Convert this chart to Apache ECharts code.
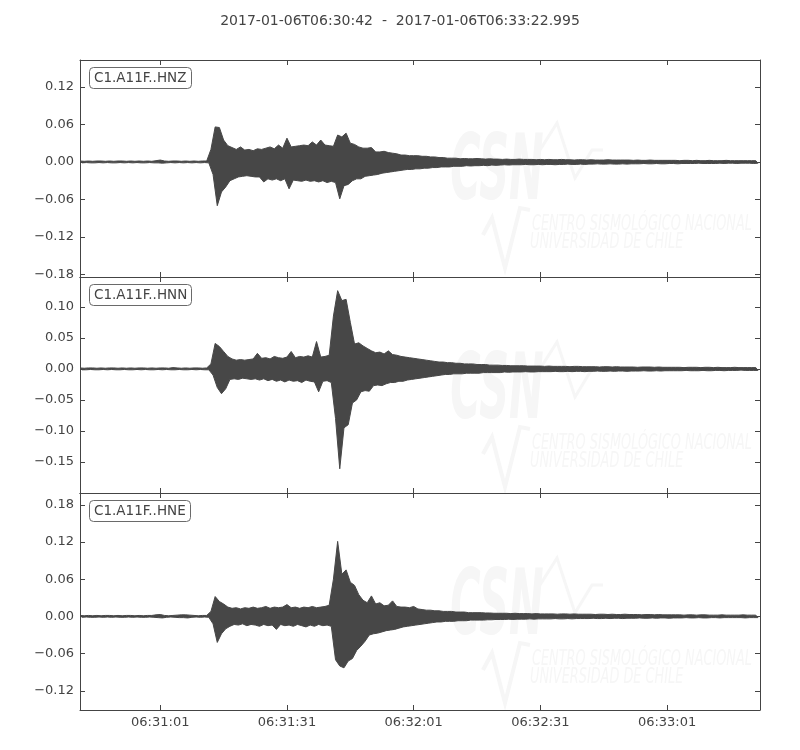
<!DOCTYPE html>
<html>
<head>
<meta charset="utf-8">
<script src="https://cdn.jsdelivr.net/npm/echarts@6/dist/echarts.min.js"></script>
<style>html,body{margin:0;padding:0;background:#fff}#chart{width:800px;height:750px}</style>
</head>
<body>
<div id="chart"></div>
<script>
// ---- data (envelope of each trace, 1 s bins, t = 0..160 s) ----
const titleText = '2017-01-06T06:30:42  -  2017-01-06T06:33:22.995';
const durationSec = 160.995;
const binSec = 1;
const channels = ['C1.A11F..HNZ', 'C1.A11F..HNN', 'C1.A11F..HNE'];
const xTickSec = [19, 49, 79, 109, 139];
const xTickLabels = ['06:31:01', '06:31:31', '06:32:01', '06:32:31', '06:33:01'];
const hnzTicks = [-0.18, -0.12, -0.06, 0, 0.06, 0.12];
const hnnTicks = [-0.15, -0.10, -0.05, 0, 0.05, 0.10];
const hneTicks = [-0.12, -0.06, 0, 0.06, 0.12, 0.18];
const hnzRange = [-0.184, 0.163];
const hnnRange = [-0.200, 0.148];
const hneRange = [-0.151, 0.199];

const hnzUp = [.0015,.001,.0015,.001,.0015,.0015,.001,.0015,.001,.0015,
 .0015,.001,.0015,.001,.0015,.001,.0015,.001,.002,.003,
 .0015,.001,.0015,.0015,.001,.0015,.001,.0015,.001,.0015,
 .0015,.020,.056,.055,.035,.026,.023,.020,.024,.019,
 .020,.018,.021,.020,.022,.024,.021,.027,.022,.038,
 .024,.025,.026,.027,.026,.032,.027,.035,.027,.026,
 .025,.043,.040,.046,.030,.028,.024,.022,.022,.023,
 .016,.016,.017,.015,.014,.013,.011,.011,.010,.010,
 .010,.009,.009,.008,.008,.007,.007,.006,.006,.006,
 .005,.0055,.005,.005,.0055,.005,.0045,.005,.0045,.0045,
 .004,.0045,.004,.004,.0045,.004,.004,.004,.0035,.004,
 .0035,.004,.0035,.0035,.004,.0035,.0035,.003,.0035,.0035,
 .003,.0035,.003,.003,.003,.0035,.003,.003,.003,.003,
 .003,.0025,.003,.0025,.0025,.003,.0025,.0025,.0025,.0025,
 .0025,.0025,.002,.0025,.0025,.002,.0025,.002,.002,.0025,
 .002,.002,.002,.0025,.002,.002,.002,.002,.002,.002,.002];
const hnzLo = [-.0015,-.001,-.0015,-.0015,-.001,-.0015,-.001,-.0015,-.0015,-.001,
 -.0015,-.001,-.0015,-.001,-.0015,-.0015,-.001,-.0015,-.0015,-.002,
 -.0015,-.001,-.0015,-.001,-.0015,-.001,-.0015,-.001,-.0015,-.001,
 -.0015,-.020,-.070,-.048,-.040,-.030,-.027,-.024,-.023,-.022,
 -.023,-.024,-.024,-.032,-.027,-.029,-.027,-.030,-.027,-.043,
 -.029,-.030,-.031,-.029,-.031,-.030,-.032,-.030,-.033,-.031,
 -.033,-.059,-.038,-.036,-.030,-.027,-.027,-.023,-.022,-.021,
 -.020,-.018,-.017,-.016,-.015,-.014,-.013,-.012,-.012,-.011,
 -.011,-.010,-.010,-.009,-.009,-.008,-.008,-.008,-.007,-.007,
 -.007,-.006,-.0065,-.006,-.006,-.0055,-.006,-.005,-.0055,-.005,
 -.0045,-.005,-.0045,-.0045,-.0045,-.004,-.0045,-.0045,-.004,-.0045,
 -.004,-.004,-.0045,-.004,-.004,-.0035,-.004,-.004,-.0035,-.004,
 -.0035,-.0035,-.003,-.0035,-.0035,-.003,-.0035,-.0035,-.003,-.0035,
 -.003,-.003,-.003,-.0025,-.003,-.003,-.0025,-.003,-.003,-.0025,
 -.0025,-.003,-.0025,-.0025,-.0025,-.0025,-.002,-.0025,-.0025,-.0025,
 -.0025,-.002,-.0025,-.002,-.002,-.0025,-.002,-.002,-.002,-.0025,-.002];

const hnnUp = [.0015,.001,.0015,.0015,.001,.0015,.001,.0015,.0015,.001,
 .0015,.001,.0015,.001,.0015,.0015,.001,.0015,.001,.0015,
 .0015,.001,.002,.0015,.001,.0015,.001,.0015,.0015,.001,
 .0015,.008,.041,.036,.028,.020,.016,.014,.015,.014,
 .015,.016,.025,.017,.018,.016,.020,.018,.017,.019,
 .028,.018,.020,.019,.021,.019,.044,.019,.020,.022,
 .085,.126,.110,.112,.075,.040,.042,.037,.033,.029,
 .026,.027,.024,.029,.023,.022,.020,.019,.018,.017,
 .016,.015,.014,.013,.012,.011,.011,.010,.010,.009,
 .009,.008,.008,.008,.007,.007,.007,.006,.006,.006,
 .0055,.0055,.005,.005,.005,.005,.0045,.0045,.0045,.0045,
 .004,.0045,.004,.004,.004,.004,.0035,.004,.004,.0035,
 .0035,.0035,.0035,.003,.0035,.0035,.003,.0035,.003,.003,
 .003,.003,.0025,.003,.003,.003,.0025,.003,.0025,.0025,
 .0025,.0025,.0025,.002,.0025,.0025,.0025,.002,.0025,.0025,
 .002,.0025,.002,.002,.002,.0025,.002,.002,.002,.002,.002];
const hnnLo = [-.0015,-.0015,-.001,-.0015,-.0015,-.001,-.0015,-.001,-.0015,-.0015,
 -.001,-.0015,-.0015,-.001,-.0015,-.001,-.0015,-.0015,-.001,-.0015,
 -.001,-.0015,-.0015,-.001,-.0015,-.0015,-.001,-.0015,-.001,-.0015,
 -.0015,-.010,-.030,-.040,-.032,-.017,-.016,-.017,-.015,-.016,
 -.017,-.016,-.018,-.016,-.019,-.017,-.020,-.018,-.021,-.018,
 -.020,-.019,-.022,-.018,-.020,-.021,-.037,-.020,-.019,-.022,
 -.080,-.161,-.095,-.090,-.055,-.050,-.037,-.035,-.036,-.027,
 -.026,-.027,-.024,-.022,-.022,-.020,-.020,-.018,-.017,-.016,
 -.015,-.014,-.013,-.012,-.011,-.010,-.009,-.009,-.008,-.008,
 -.008,-.007,-.007,-.007,-.007,-.006,-.006,-.006,-.006,-.006,
 -.005,-.0055,-.005,-.005,-.005,-.0045,-.005,-.005,-.0045,-.0045,
 -.0045,-.0045,-.004,-.0045,-.0045,-.004,-.0045,-.004,-.004,-.0045,
 -.004,-.004,-.0035,-.004,-.004,-.0035,-.004,-.0035,-.0035,-.004,
 -.0035,-.0035,-.0035,-.003,-.0035,-.0035,-.003,-.0035,-.003,-.003,
 -.003,-.003,-.003,-.0025,-.003,-.003,-.003,-.0025,-.003,-.003,
 -.0025,-.0025,-.003,-.0025,-.0025,-.0025,-.002,-.0025,-.0025,-.0025,-.0025];

const hneUp = [.0015,.001,.0015,.001,.0015,.001,.0015,.0015,.001,.0015,
 .001,.0015,.0015,.001,.0015,.001,.0015,.0015,.0025,.003,
 .0015,.001,.0015,.002,.0025,.0025,.002,.0015,.001,.0015,
 .0015,.008,.032,.024,.020,.015,.013,.014,.012,.014,
 .013,.015,.013,.014,.016,.013,.015,.014,.015,.019,
 .014,.015,.013,.015,.014,.016,.014,.015,.016,.018,
 .060,.121,.068,.075,.055,.050,.035,.026,.022,.033,
 .020,.022,.017,.018,.025,.016,.015,.015,.014,.016,
 .012,.011,.010,.010,.009,.009,.008,.008,.008,.007,
 .007,.007,.006,.006,.006,.006,.0055,.0055,.005,.005,
 .005,.005,.0045,.005,.0045,.0045,.0045,.004,.0045,.004,
 .004,.004,.004,.0035,.004,.004,.0035,.004,.0035,.0035,
 .0035,.0035,.003,.0035,.0035,.003,.0035,.003,.003,.0035,
 .003,.003,.003,.0025,.003,.003,.0025,.003,.0025,.0025,
 .0025,.0025,.0025,.002,.0025,.0025,.002,.0025,.0025,.002,
 .002,.002,.0025,.002,.002,.002,.002,.0025,.002,.002,.002];
const hneLo = [-.0015,-.001,-.0015,-.0015,-.001,-.0015,-.001,-.0015,-.001,-.0015,
 -.0015,-.001,-.0015,-.001,-.0015,-.0015,-.001,-.0015,-.002,-.0025,
 -.0015,-.001,-.0015,-.002,-.002,-.0025,-.0015,-.001,-.0015,-.001,
 -.0015,-.012,-.042,-.028,-.020,-.016,-.013,-.014,-.012,-.015,
 -.013,-.014,-.016,-.013,-.015,-.014,-.021,-.013,-.015,-.014,
 -.016,-.013,-.015,-.017,-.014,-.016,-.013,-.015,-.014,-.016,
 -.070,-.080,-.083,-.072,-.068,-.055,-.048,-.040,-.030,-.028,
 -.027,-.025,-.023,-.022,-.021,-.019,-.017,-.016,-.015,-.014,
 -.013,-.012,-.011,-.010,-.009,-.009,-.008,-.008,-.008,-.007,
 -.007,-.007,-.006,-.006,-.006,-.006,-.0055,-.0055,-.005,-.005,
 -.005,-.0045,-.005,-.0045,-.0045,-.0045,-.004,-.0045,-.004,-.004,
 -.004,-.004,-.0035,-.004,-.004,-.0035,-.004,-.0035,-.0035,-.0035,
 -.0035,-.003,-.0035,-.0035,-.003,-.0035,-.003,-.003,-.0035,-.003,
 -.003,-.003,-.0025,-.003,-.003,-.0025,-.003,-.0025,-.0025,-.003,
 -.0025,-.0025,-.0025,-.002,-.0025,-.0025,-.002,-.0025,-.0025,-.002,
 -.002,-.0025,-.002,-.002,-.002,-.002,-.002,-.0025,-.002,-.002,-.002];

// ---- layout / style ----
const FONT = 'DejaVu Sans';
const INK = '#444444';
const TRACE = '#474747';
const gridTops = [60, 277, 493];
const gridHeights = [217, 216, 217];
const traces = [
  {up: hnzUp, lo: hnzLo, ticks: hnzTicks, range: hnzRange},
  {up: hnnUp, lo: hnnLo, ticks: hnnTicks, range: hnnRange},
  {up: hneUp, lo: hneLo, ticks: hneTicks, range: hneRange}
];

function fmtY(v) {
  const s = Math.abs(v).toFixed(2);
  return (v < -1e-9 ? '\u2212' : '') + s;
}

const grids = [], xAxes = [], yAxes = [], series = [], titles = [], graphics = [];
titles.push({
  text: titleText, left: 'center', top: 13, padding: 0,
  textStyle: {fontFamily: FONT, fontSize: 14, fontWeight: 'normal', color: INK, lineHeight: 16}
});
const axisLineStyle = {color: INK, width: 1};
traces.forEach((tr, i) => {
  grids.push({left: 80, width: 680, top: gridTops[i], height: gridHeights[i], containLabel: false});
  ['bottom', 'top'].forEach(pos => {
    xAxes.push({
      gridIndex: i, type: 'value', position: pos, min: 0, max: durationSec,
      axisLine: {show: true, onZero: false, lineStyle: axisLineStyle},
      axisTick: {show: true, inside: true, length: 5, customValues: xTickSec, lineStyle: axisLineStyle},
      axisLabel: {
        show: pos === 'bottom' && i === traces.length - 1,
        customValues: xTickSec, margin: 6,
        fontFamily: FONT, fontSize: 13, color: INK,
        formatter: v => xTickLabels[xTickSec.indexOf(v)]
      },
      splitLine: {show: false}
    });
  });
  ['left', 'right'].forEach(pos => {
    yAxes.push({
      gridIndex: i, type: 'value', position: pos, min: tr.range[0], max: tr.range[1],
      axisLine: {show: true, onZero: false, lineStyle: axisLineStyle},
      axisTick: {show: true, inside: true, length: 5, customValues: tr.ticks, lineStyle: axisLineStyle},
      axisLabel: {
        show: pos === 'left', customValues: tr.ticks, margin: 6,
        fontFamily: FONT, fontSize: 13, color: INK, formatter: fmtY
      },
      splitLine: {show: false}
    });
  });
  // envelope of the trace: upper values forward, lower values backward, drawn through the axes' scales
  const items = tr.up.map((v, k) => [k * binSec, v, tr.lo[k]]);
  series.push({
    type: 'custom', coordinateSystem: 'cartesian2d',
    xAxisIndex: 2 * i, yAxisIndex: 2 * i,
    data: items, encode: {x: 0, y: [1, 2]},
    silent: true, z: 3, clip: true,
    renderItem: (params, api) => {
      if (params.dataIndex !== 0) return null;
      const top = items.map(d => api.coord([d[0], d[1]]));
      const bot = items.map(d => api.coord([d[0] + binSec / 2, d[2]])).reverse();
      return {
        type: 'polygon',
        shape: {points: top.concat(bot)},
        style: {fill: TRACE, stroke: TRACE, lineWidth: 1}
      };
    }
  });
  titles.push({
    text: channels[i], left: 89, top: gridTops[i] + 7,
    padding: [3, 5, 3, 5], borderColor: '#6a6a6a', borderWidth: 1, borderRadius: 4,
    backgroundColor: '#ffffff', z: 10,
    textStyle: {fontFamily: FONT, fontSize: 13.5, fontWeight: 'normal', color: INK, lineHeight: 16}
  });
  // very faint CSN watermark
  const oy = gridTops[i] - 60 + (i === 0 ? 0 : 2);
  const wm = '#f6f6f6';
  graphics.push({
    type: 'text', x: 497, y: 176 + oy, scaleX: 0.46, z: -1, silent: true,
    style: {text: 'CSN', font: 'italic bold 90px "' + FONT + '"', fill: wm, align: 'center', verticalAlign: 'middle'}
  });
  graphics.push({
    type: 'polyline', z: -1, silent: true,
    shape: {points: [[540, 150 + oy], [557, 123 + oy], [575, 178 + oy], [592, 150 + oy], [603, 150 + oy]]},
    style: {stroke: wm, lineWidth: 3, fill: null}
  });
  graphics.push({
    type: 'polyline', z: -1, silent: true,
    shape: {points: [[483, 235 + oy], [492, 218 + oy], [505, 268 + oy], [520, 208 + oy], [530, 210 + oy]]},
    style: {stroke: wm, lineWidth: 4, fill: null}
  });
  graphics.push({
    type: 'text', x: 532, y: 224 + oy, scaleX: 0.585, z: -1, silent: true,
    style: {text: 'CENTRO SISMOLÓGICO NACIONAL', font: 'italic 22px "' + FONT + '"', fill: wm, align: 'left', verticalAlign: 'middle'}
  });
  graphics.push({
    type: 'text', x: 530, y: 242 + oy, scaleX: 0.585, z: -1, silent: true,
    style: {text: 'UNIVERSIDAD DE CHILE', font: 'italic 22px "' + FONT + '"', fill: wm, align: 'left', verticalAlign: 'middle'}
  });
});

const chart = echarts.init(document.getElementById('chart'), null, {renderer: 'canvas'});
chart.setOption({
  backgroundColor: '#ffffff',
  animation: false,
  title: titles,
  grid: grids,
  xAxis: xAxes,
  yAxis: yAxes,
  series: series,
  graphic: {elements: graphics}
});
</script>
</body>
</html>
